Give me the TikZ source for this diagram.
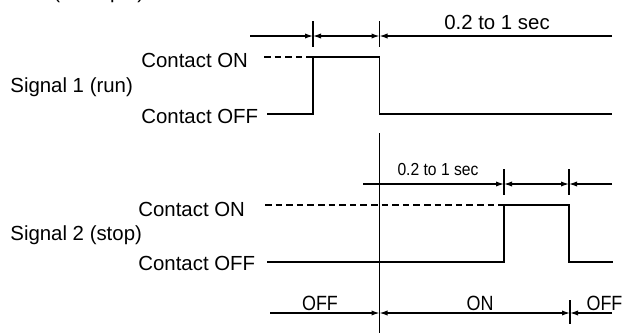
\documentclass[tikz,border=0pt]{standalone}
\usepackage{fontspec}
\usepackage{graphicx}
\setmainfont{Liberation Sans}
\usetikzlibrary{arrows.meta}
\begin{document}
\begin{tikzpicture}[x=0.5pt,y=-0.5pt,
  sig/.style={line width=0.75pt, line join=miter},
  dashsig/.style={line width=0.7pt, dash pattern=on 3.3pt off 2pt},
  dim/.style={line width=0.6pt},
  arr/.style={dim,-{Latex[length=4pt,width=2.6pt]}},
  darr/.style={dim,{Latex[length=4pt,width=2.6pt]}-{Latex[length=4pt,width=2.6pt]}},
  lbl/.style={font=\fontsize{10.2}{12}\selectfont, inner sep=0pt},
  slbl/.style={font=\fontsize{8.7}{10}\selectfont, inner sep=0pt},
  blbl/.style={font=\fontsize{10.3}{12}\selectfont, inner sep=0pt}]
\useasboundingbox (0,0) rectangle (622,333);

% clipped heading (only descenders visible)
\node[lbl, anchor=base west] (head) at (53,-1.5) {(example)};

% ---- labels
\node[lbl, anchor=west] (s1) at (10,87) {Signal 1 (run)};
\node[lbl, anchor=west] (s1on) at (141,60) {Contact ON};
\node[lbl, anchor=west] (s1off) at (141,116) {Contact OFF};
\node[lbl, anchor=west] (s2) at (10,235) {Signal 2 (stop)};
\node[lbl, anchor=west] (s2on) at (138,209) {Contact ON};
\node[lbl, anchor=west] (s2off) at (138,263.5) {Contact OFF};

% ---- top dimension
\coordinate (a0) at (250,36);
\coordinate (a1) at (313,36);
\coordinate (a2) at (379.5,36);
\coordinate (a3) at (612,36);
\draw[dim] (313,21) -- (313,47);
\draw[dim] (379.5,21) -- (379.5,47);
\draw[arr] (a0) -- (a1);
\draw[darr] (a1) -- (a2);
\draw[arr] (a3) -- (a2);
\node[lbl] (t1) at (497,22) {0.2 to 1 sec};

% ---- signal 1
\draw[dashsig] (264,57) -- (355,57);
\draw[sig] (267,114) -- (313,114) -- (313,57) -- (379.5,57) -- (379.5,114) -- (612,114);

% ---- vertical reference line
\coordinate (v0) at (379.5,133);
\coordinate (v1) at (379.5,333);
\draw[dim] (v0) -- (v1);

% ---- middle dimension
\coordinate (b0) at (363,184);
\coordinate (b1) at (504,184);
\coordinate (b2) at (569,184);
\coordinate (b3) at (612,184);
\draw[dim] (504,169) -- (504,195);
\draw[dim] (569,169) -- (569,195);
\draw[arr] (b0) -- (b1);
\draw[darr] (b1) -- (b2);
\draw[arr] (b3) -- (b2);
\node[slbl] (t2) at (438,169.5) {\scalebox{0.9}[1]{0.2 to 1 sec}};

% ---- signal 2
\draw[dashsig] (265,205) -- (504,205);
\draw[sig] (267,262) -- (504,262) -- (504,205) -- (569,205) -- (569,262) -- (613,262);

% ---- bottom dimension
\coordinate (c0) at (270,313);
\coordinate (c1) at (379.5,313);
\coordinate (c2) at (570,313);
\coordinate (c3) at (612,313);
\draw[dim] (570,300) -- (570,324);
\draw[arr] (c0) -- (c1);
\draw[darr] (c1) -- (c2);
\draw[arr] (c3) -- (c2);
\node[blbl] (off1) at (320,303) {\scalebox{0.87}[1]{OFF}};
\node[blbl] (on) at (480,303) {\scalebox{0.87}[1]{ON}};
\node[blbl] (off2) at (604.5,303) {\scalebox{0.87}[1]{OFF}};
\end{tikzpicture}
\end{document}
